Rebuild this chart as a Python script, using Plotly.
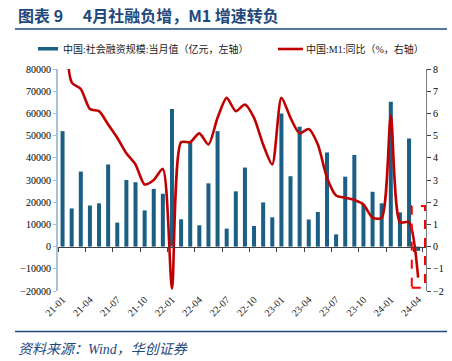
import plotly.graph_objects as go

# ---------------- data ----------------
months = [f"{y}-{m:02d}" for y in (21, 22, 23) for m in range(1, 13)] + ["24-01", "24-02", "24-03", "24-04"]

tsf = [52000, 17200, 33800, 18500, 19500, 37000, 10800, 30000, 29000, 16300, 26000, 23800,
       62000, 12300, 47000, 9600, 28500, 52000, 8100, 24900, 35600, 9300, 19900, 13200,
       60000, 31700, 54000, 12200, 15600, 42400, 5500, 31500, 41300, 18900, 24700, 19500,
       65300, 15400, 48700, -1900]

m1 = [14.7, 7.4, 7.1, 6.2, 6.1, 5.5, 4.9, 4.2, 3.7, 2.8, 3.0, 3.5,
      -1.9, 4.7, 4.7, 5.1, 4.6, 5.8, 6.7, 6.1, 6.4, 5.8, 4.6, 3.7,
      6.7, 5.8, 5.1, 5.3, 4.6, 3.1, 2.3, 2.2, 2.1, 1.9, 1.3, 1.3,
      5.9, 1.1, 1.1, -1.4]

tick_labels = months[::3]

name_bar = "中国:社会融资规模:当月值（亿元，左轴）"
name_line = "中国:M1:同比（%，右轴）"
title = "图表 9　 4月社融负增，M1 增速转负"
source = "资料来源：Wind，华创证券"

left_range = [-20000, 80000]
right_range = [-2, 8]

# ---------------- layout helpers ----------------
W, H = 452, 361
ML, MR, MT, MB = 58, 26, 69, 70
PW, PH = W - ML - MR, H - MT - MB


def px_x(px):
    return (px - ML) / PW


def px_y(py):
    return 1 - (py - MT) / PH


SERIF = "Liberation Serif, Noto Sans CJK SC"
NAVY = "#1F497D"
BAR_C = "#1B5F84"
LINE_C = "#C00000"

fig = go.Figure()
fig.add_trace(go.Bar(x=months, y=tsf, marker=dict(color=BAR_C, line=dict(width=0)),
                     name=name_bar, xaxis="x", yaxis="y", showlegend=False))
fig.add_trace(go.Scatter(x=months, y=m1, mode="lines", name=name_line,
                         line=dict(color=LINE_C, width=2.6, shape="spline", smoothing=0.7),
                         xaxis="x2", yaxis="y2", showlegend=False))

zero_pos = (0 - left_range[0]) / (left_range[1] - left_range[0])

fig.update_layout(
    width=W, height=H,
    margin=dict(l=ML, r=MR, t=MT, b=MB),
    paper_bgcolor="white", plot_bgcolor="white",
    bargap=0.56,
    font=dict(family=SERIF, size=10, color="#000000"),
    xaxis=dict(type="category", tickmode="array", tickvals=tick_labels, ticktext=tick_labels,
               tickangle=-45, ticks="", showline=False, showgrid=False, zeroline=False,
               automargin=False,
               tickfont=dict(family=SERIF, size=10, color="#222222")),
    xaxis2=dict(type="category", matches="x", overlaying="x", anchor="free", position=zero_pos,
                tickmode="array", tickvals=tick_labels, tickson="boundaries",
                ticks="outside", ticklen=4, tickcolor="#404040", showticklabels=False,
                showline=True, linecolor="#404040", linewidth=1, showgrid=False, zeroline=False),
    yaxis=dict(range=left_range, dtick=10000, showgrid=False, zeroline=False,
               showline=True, linecolor="#A7C3D6", linewidth=2, automargin=False,
               ticks="outside", ticklen=3, tickcolor="#A7C3D6",
               tickformat="d", tickfont=dict(family=SERIF, size=10, color="#000000")),
    yaxis2=dict(range=right_range, dtick=1, overlaying="y", side="right", anchor="x",
                showgrid=False, zeroline=False, showline=True, linecolor="#7F7F7F", linewidth=1,
                ticks="outside", ticklen=4, tickcolor="#404040", automargin=False,
                tickfont=dict(family=SERIF, size=10, color="#000000")),
)

shapes = []
annotations = []

# title and rules
annotations.append(dict(text=f"<b>{title}</b>", xref="paper", yref="paper", x=px_x(16), y=px_y(15),
                        xanchor="left", yanchor="middle", showarrow=False,
                        font=dict(family="Noto Sans CJK SC", size=16, color=NAVY)))
shapes.append(dict(type="line", xref="paper", yref="paper", x0=px_x(15), x1=px_x(447),
                   y0=px_y(29), y1=px_y(29), line=dict(color=NAVY, width=1.6)))
shapes.append(dict(type="line", xref="paper", yref="paper", x0=px_x(15), x1=px_x(447),
                   y0=px_y(331.5), y1=px_y(331.5), line=dict(color=NAVY, width=1.6)))
annotations.append(dict(text=f"<i>{source}</i>", xref="paper", yref="paper", x=px_x(16), y=px_y(349),
                        xanchor="left", yanchor="middle", showarrow=False,
                        font=dict(family=SERIF, size=14, color=NAVY)))

# legend (drawn manually)
shapes.append(dict(type="rect", xref="paper", yref="paper", x0=px_x(38), x1=px_x(58),
                   y0=px_y(47), y1=px_y(50.5), fillcolor=BAR_C, line=dict(width=0)))
annotations.append(dict(text=name_bar, xref="paper", yref="paper", x=px_x(61), y=px_y(49),
                        xanchor="left", yanchor="middle", showarrow=False,
                        font=dict(family=SERIF, size=10, color="#222222")))
shapes.append(dict(type="line", xref="paper", yref="paper", x0=px_x(278), x1=px_x(303),
                   y0=px_y(49), y1=px_y(49), line=dict(color=LINE_C, width=2.6)))
annotations.append(dict(text=name_line, xref="paper", yref="paper", x=px_x(304), y=px_y(49),
                        xanchor="left", yanchor="middle", showarrow=False,
                        font=dict(family=SERIF, size=10, color="#222222")))

# dashed highlight box around last month
last = len(months) - 1
shapes.append(dict(type="rect", xref="x", yref="y2", x0=last - 0.7, x1=last + 0.75,
                   y0=-1.85, y1=1.83, line=dict(color="#FF0000", width=2, dash="dash"),
                   fillcolor="rgba(0,0,0,0)"))

fig.update_layout(shapes=shapes, annotations=annotations)
fig.write_html("out.html", config={"displayModeBar": False},
               post_script="document.body.style.margin='0';document.body.style.overflow='hidden';")
